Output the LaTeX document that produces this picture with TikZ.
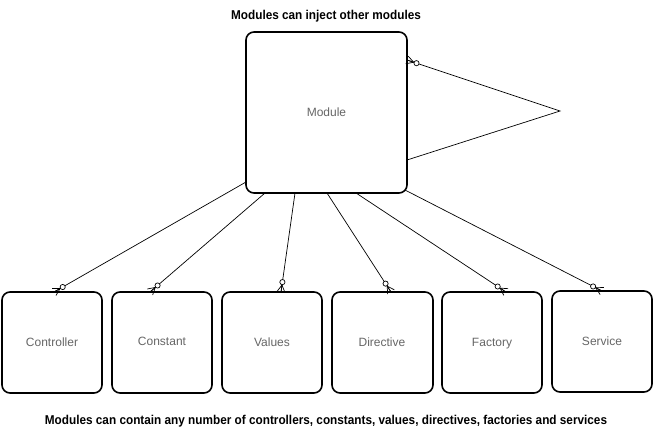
\documentclass[tikz,border=0pt]{standalone}
\usepackage{fontspec}
\setmainfont{Liberation Sans}
\usetikzlibrary{calc}
\tikzset{
  box/.style={draw=black, line width=1.6pt, rounded corners=8pt, fill=white},
  conn/.style={draw=black, line width=0.7pt},
  lbl/.style={text=black!60, font=\fontsize{12}{14}\selectfont, inner sep=0pt, anchor=base},
  captext/.style={font=\bfseries\fontsize{12.8}{15}\selectfont, inner sep=0pt, xscale=0.92}
}
\newcommand\crowfoot[2]{%
  \draw[conn] ($(#1)!7pt!(#2)$) -- (#1);
  \draw[conn] ($(#1)!7pt!(#2)$) -- ($(#1)!4pt!90:(#2)$);
  \draw[conn] ($(#1)!7pt!(#2)$) -- ($(#1)!4pt!-90:(#2)$);
  \draw[conn, fill=white] ($(#1)!10pt!(#2)$) circle (2.6pt);
}
\begin{document}
\begin{tikzpicture}[x=1pt, y=-1pt]
\useasboundingbox (0,0) rectangle (654,445);
\fill[white] (0,0) rectangle (654,445);

% boxes
\draw[box] (246,32) rectangle (407,193);
\node[lbl] (mod) at (326.5,116) {Module};
\draw[box] (2,292) rectangle (102,393);
\node[lbl] (ctrl) at (52,346) {Controller};
\draw[box] (112,292) rectangle (212,393);
\node[lbl] (const) at (162,345) {Constant};
\draw[box] (222,292) rectangle (322,393);
\node[lbl] (val) at (272,346) {Values};
\draw[box] (332,292) rectangle (433,393);
\node[lbl] (dir) at (382,346) {Directive};
\draw[box] (442,292) rectangle (542,393);
\node[lbl] (fac) at (492,346) {Factory};
\draw[box] (552,291) rectangle (652,392);
\node[lbl] (svc) at (602,345) {Service};

% attachment points
\coordinate (s1) at (246,182);  \coordinate (e1) at (54,292);
\coordinate (s2) at (265,193);  \coordinate (e2) at (150,292);
\coordinate (s3) at (295,193);  \coordinate (e3) at (281,292);
\coordinate (s4) at (327,193);  \coordinate (e4) at (391,292);
\coordinate (s5) at (356,193);  \coordinate (e5) at (506,292);
\coordinate (s6) at (405,190);  \coordinate (e6) at (602,291);
\coordinate (le) at (407,60);
\coordinate (lapex) at (560,111);
\coordinate (lf) at (407,160);

% connectors
\draw[conn] (s1) -- (e1);
\draw[conn] (s2) -- (e2);
\draw[conn] (s3) -- (e3);
\draw[conn] (s4) -- (e4);
\draw[conn] (s5) -- (e5);
\draw[conn] (s6) -- (e6);
\draw[conn] (le) -- (lapex) -- (lf);

\crowfoot{e1}{s1}
\crowfoot{e2}{s2}
\crowfoot{e3}{s3}
\crowfoot{e4}{s4}
\crowfoot{e5}{s5}
\crowfoot{e6}{s6}
\crowfoot{le}{lapex}

% captions
\node[captext] (top) at (326,16) {Modules can inject other modules};
\node[captext] (bottom) at (326,421) {Modules can contain any number of controllers, constants, values, directives, factories and services};
\end{tikzpicture}
\end{document}
